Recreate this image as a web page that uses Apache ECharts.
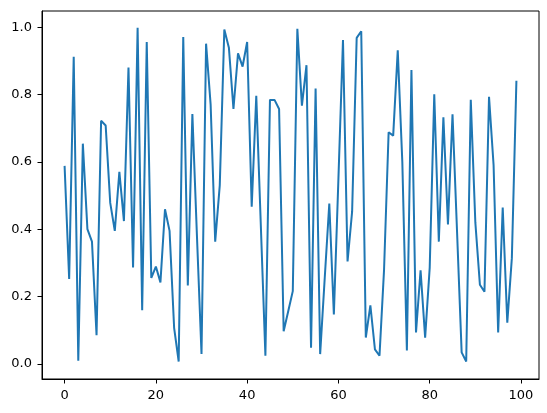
<!DOCTYPE html>
<html>
<head>
<meta charset="utf-8">
<script src="https://cdn.jsdelivr.net/npm/echarts@6/dist/echarts.min.js"></script>
<style>html,body{margin:0;padding:0;background:#fff;}#c{width:547px;height:413px;}</style>
</head>
<body>
<div id="c"></div>
<script>
const values = [
  0.588, 0.252, 0.912, 0.009, 0.654, 0.400, 0.363, 0.085, 0.722, 0.708,
  0.478, 0.395, 0.570, 0.424, 0.880, 0.286, 0.998, 0.159, 0.956, 0.255,
  0.289, 0.242, 0.459, 0.395, 0.107, 0.007, 0.971, 0.233, 0.742, 0.380,
  0.029, 0.951, 0.770, 0.363, 0.530, 0.993, 0.939, 0.757, 0.922, 0.883,
  0.956, 0.467, 0.796, 0.410, 0.024, 0.784, 0.784, 0.757, 0.097, 0.156,
  0.216, 0.995, 0.767, 0.887, 0.048, 0.818, 0.029, 0.255, 0.476, 0.147,
  0.550, 0.962, 0.304, 0.452, 0.968, 0.988, 0.078, 0.174, 0.043, 0.024,
  0.280, 0.688, 0.678, 0.931, 0.600, 0.040, 0.873, 0.093, 0.278, 0.078,
  0.285, 0.801, 0.363, 0.732, 0.414, 0.741, 0.390, 0.034, 0.007, 0.784,
  0.420, 0.235, 0.214, 0.793, 0.590, 0.093, 0.464, 0.122, 0.314, 0.841
];
const xTicks = [0, 20, 40, 60, 80, 100];
const yTicks = [0.0, 0.2, 0.4, 0.6, 0.8, 1.0];

const chart = echarts.init(document.getElementById('c'), null, {renderer: 'canvas'});
const font = 'DejaVu Sans';
chart.setOption({
  animation: false,
  backgroundColor: '#fff',
  grid: {left: 42, top: 11, width: 497, height: 368, show: true, borderColor: '#000', borderWidth: 1, containLabel: false},
  xAxis: {
    type: 'value', min: -4.95, max: 103.95,
    axisLine: {show: true, onZero: false, lineStyle: {color: '#000', width: 1}},
    axisTick: {show: true, customValues: xTicks, length: 4.5, lineStyle: {color: '#000', width: 1}},
    axisLabel: {customValues: xTicks, color: '#000', fontFamily: font, fontSize: 13, margin: 10, formatter: v => String(Math.round(v))},
    splitLine: {show: false}
  },
  yAxis: {
    type: 'value', min: -0.045, max: 1.048,
    axisLine: {show: true, onZero: false, lineStyle: {color: '#000', width: 1}},
    axisTick: {show: true, customValues: yTicks, length: 4.5, lineStyle: {color: '#000', width: 1}},
    axisLabel: {customValues: yTicks, color: '#000', fontFamily: font, fontSize: 13, margin: 10, formatter: v => v.toFixed(1)},
    splitLine: {show: false}
  },
  series: [{
    type: 'line',
    data: values.map((v, i) => [i, v]),
    showSymbol: false,
    symbol: 'none',
    lineStyle: {color: '#1f77b4', width: 2},
    itemStyle: {color: '#1f77b4'}
  }]
});
</script>
</body>
</html>
